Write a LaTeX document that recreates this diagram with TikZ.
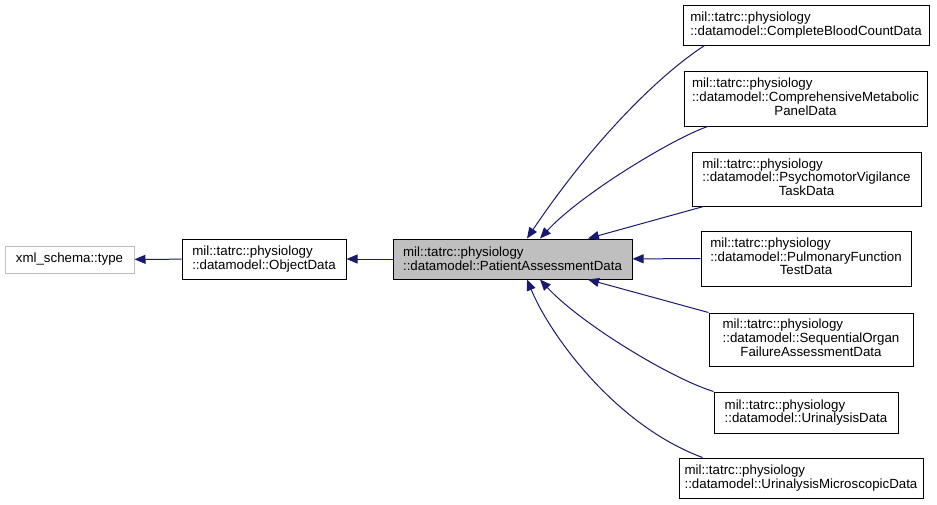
\documentclass[tikz,border=0pt]{standalone}
\usepackage{fontspec}
\setmainfont{Liberation Sans}
\usetikzlibrary{arrows.meta}
\definecolor{edgeblue}{HTML}{191970}
\definecolor{boxgray}{HTML}{BFBFBF}
\newcommand\lastcentered[3]{\begin{tabular}{@{}l@{}}#1\\#2\\\multicolumn{1}{@{}c@{}}{#3}\end{tabular}}

\begin{document}
\begin{tikzpicture}[x=1pt,y=-1pt,
  font=\fontsize{13.3}{13.6}\selectfont,
  cls/.style={draw=black,line width=1pt,inner sep=0pt,align=left},
  ext/.style={cls,draw=boxgray,align=center},
  cur/.style={cls,fill=boxgray},
  inh/.style={draw=edgeblue,line width=1pt,-{Triangle[length=11pt,width=9pt]}}]
\useasboundingbox (0,0) rectangle (937,504);
% base classes
\node[ext,minimum width=129pt,minimum height=27pt] (xmltype) at (69.5,259.5) {xml\_schema::type};
\node[cls,minimum width=164pt,minimum height=40pt] (objdata) at (264,259) {mil::tatrc::physiology\\::datamodel::ObjectData};
\node[cur,minimum width=239pt,minimum height=40pt] (patdata) at (512.5,259) {mil::tatrc::physiology\\::datamodel::PatientAssessmentData};
% derived classes
\node[cls,minimum width=246pt,minimum height=40pt] (cbcdata) at (806,25) {mil::tatrc::physiology\\::datamodel::CompleteBloodCountData};
\node[cls,minimum width=243pt,minimum height=55pt] (cmpdata) at (805.5,98.5) {\lastcentered{mil::tatrc::physiology}{::datamodel::ComprehensiveMetabolic}{PanelData}};
\node[cls,minimum width=229pt,minimum height=54pt] (pvtdata) at (806.5,179) {\lastcentered{mil::tatrc::physiology}{::datamodel::PsychomotorVigilance}{TaskData}};
\node[cls,minimum width=210pt,minimum height=55pt] (pftdata) at (806,258.5) {\lastcentered{mil::tatrc::physiology}{::datamodel::PulmonaryFunction}{TestData}};
\node[cls,minimum width=204pt,minimum height=53pt] (sofadata) at (811,339.5) {\lastcentered{mil::tatrc::physiology}{::datamodel::SequentialOrgan}{FailureAssessmentData}};
\node[cls,minimum width=184pt,minimum height=41pt] (uadata) at (806,412.5) {mil::tatrc::physiology\\::datamodel::UrinalysisData};
\node[cls,minimum width=244pt,minimum height=40pt] (uamdata) at (801,478) {mil::tatrc::physiology\\::datamodel::UrinalysisMicroscopicData};
% inheritance
\draw[inh] (objdata) -- (xmltype);
\draw[inh] (patdata) -- (objdata);
\draw[inh] ([xshift=22pt]cbcdata.south west) .. controls (655,78) and (590,145) .. ([xshift=14.5pt]patdata.north);
\draw[inh] ([xshift=24pt]cmpdata.south west) .. controls (670,140) and (580,195) .. ([xshift=27.5pt]patdata.north);
\draw[inh] ([xshift=12pt]pvtdata.south west) -- ([xshift=75.5pt]patdata.north);
\draw[inh] (pftdata) -- (patdata);
\draw[inh] (sofadata.north west) -- ([xshift=75.5pt]patdata.south);
\draw[inh] (uadata.north west) .. controls (670,378) and (580,323) .. ([xshift=27.5pt]patdata.south);
\draw[inh] ([xshift=24pt]uamdata.north west) .. controls (615,425) and (550,335) .. ([xshift=14.5pt]patdata.south);
\end{tikzpicture}
\end{document}
